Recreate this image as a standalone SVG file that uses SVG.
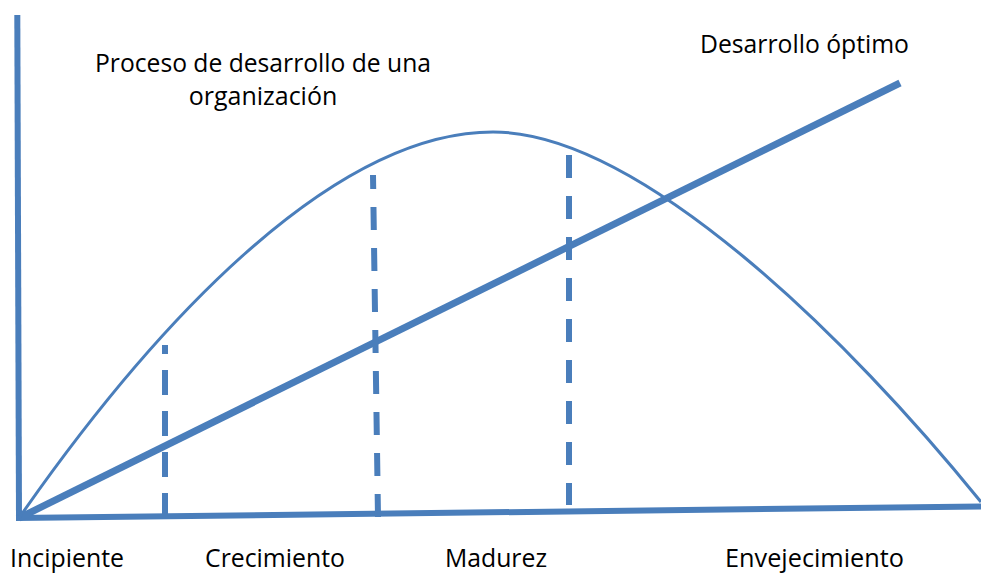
<svg xmlns="http://www.w3.org/2000/svg" width="981" height="574" viewBox="0 0 981 574">
  <style>
    .ln { fill: none; stroke: #4a7ebb; }
    .axis { stroke-width: 6; }
    .opt { stroke-width: 7; }
    .curve { stroke-width: 3; }
    .dash { stroke-width: 6; stroke-dasharray: 23 18; }
    .lbl { font-family: "Open Sans", "Liberation Sans", sans-serif; font-size: 25px; fill: #000; }
  </style>
  <rect width="981" height="574" fill="#fff"/>
  <g id="connectors">
    <line class="ln axis" x1="17.3" y1="15" x2="19" y2="519"/>
    <line class="ln axis" x1="16" y1="518" x2="981" y2="506.5"/>
    <line class="ln opt" x1="19" y1="518" x2="900" y2="83"/>
    <path class="ln curve" d="M19,518 C150,330 330,132 493,132 C640,132 850,340 981,502"/>
    <line class="ln dash" x1="165" y1="518" x2="165" y2="345" style="stroke-dasharray:25 16"/>
    <line class="ln dash" x1="378" y1="517" x2="373" y2="175"/>
    <line class="ln dash" x1="569" y1="155" x2="569" y2="505"/>
  </g>
  <g id="title">
    <text class="lbl" x="95" y="72" textLength="336" lengthAdjust="spacingAndGlyphs">Proceso de desarrollo de una</text>
    <text class="lbl" x="263" y="105" text-anchor="middle">organización</text>
  </g>
  <g id="optimo">
    <text class="lbl" x="700" y="53" textLength="209" lengthAdjust="spacingAndGlyphs">Desarrollo óptimo</text>
  </g>
  <g id="incipiente"><text class="lbl" x="10" y="567" textLength="114" lengthAdjust="spacingAndGlyphs">Incipiente</text></g>
  <g id="crecimiento"><text class="lbl" x="205" y="567" textLength="140" lengthAdjust="spacingAndGlyphs">Crecimiento</text></g>
  <g id="madurez"><text class="lbl" x="445" y="567" textLength="102" lengthAdjust="spacingAndGlyphs">Madurez</text></g>
  <g id="envejecimiento"><text class="lbl" x="725" y="567" textLength="179" lengthAdjust="spacingAndGlyphs">Envejecimiento</text></g>
</svg>
